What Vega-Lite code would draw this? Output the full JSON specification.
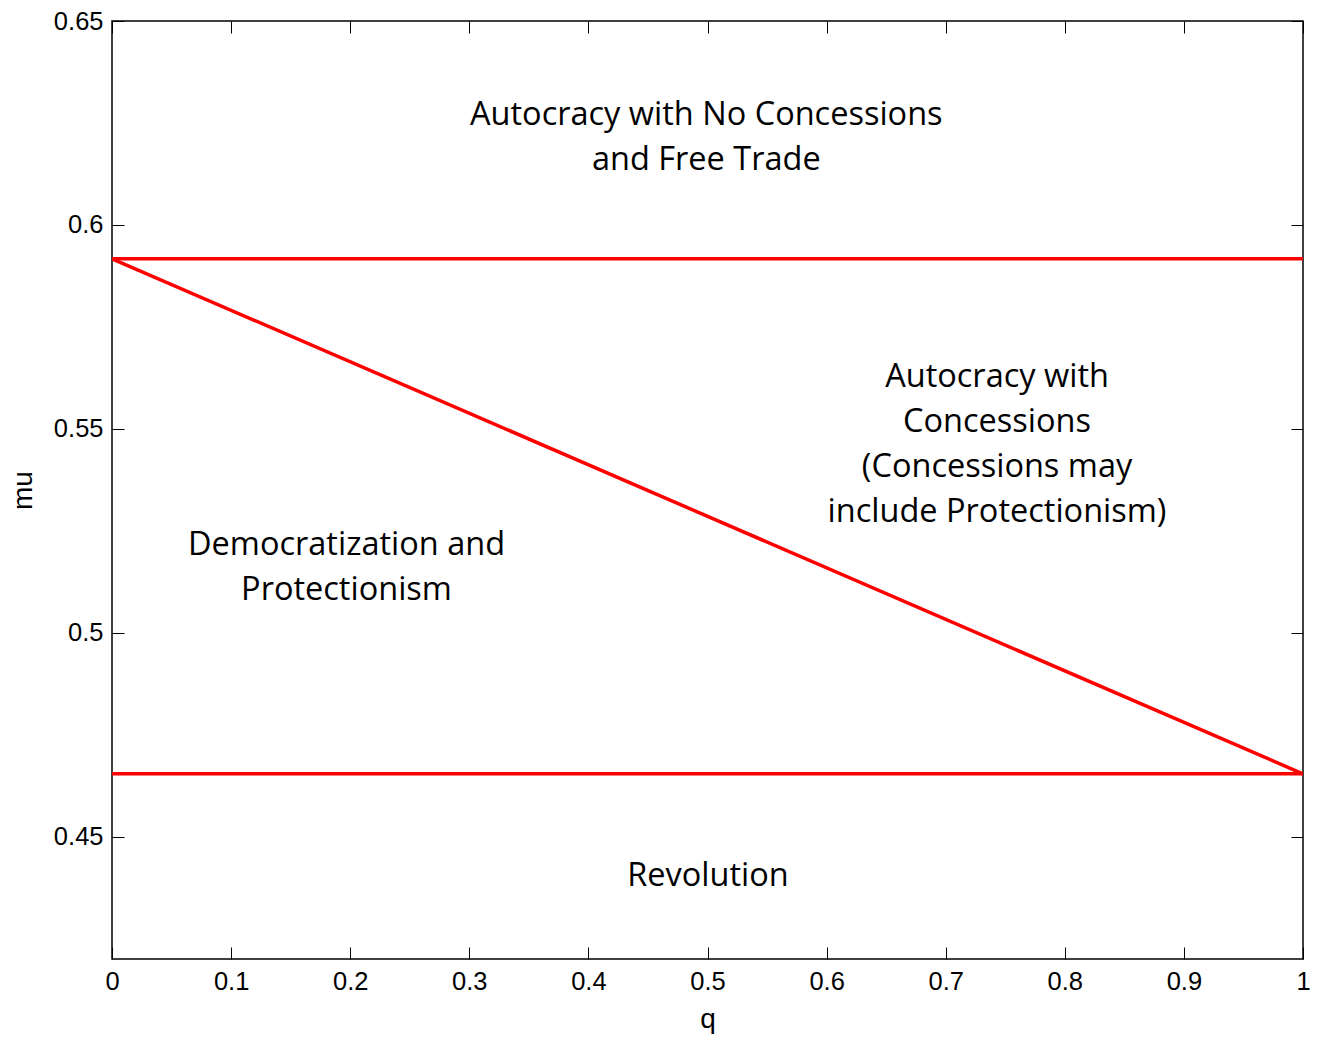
{
  "$schema": "https://vega.github.io/schema/vega-lite/v6.json",
  "autosize": "none",
  "padding": {"left": 112, "top": 21, "right": 15, "bottom": 83},
  "width": 1191,
  "height": 938,
  "background": "white",
  "config": {
    "view": {"stroke": "#000000", "strokeWidth": 1.5},
    "axis": {
      "domain": false,
      "grid": false,
      "tickColor": "#000000",
      "tickWidth": 1,
      "tickSize": -12,
      "labelFont": "Liberation Sans",
      "labelFontSize": 25.5,
      "labelColor": "#000000",
      "labelFlush": false,
      "labelOverlap": false,
      "titleFont": "Liberation Sans",
      "titleFontSize": 28,
      "titleFontWeight": "normal",
      "titleColor": "#000000"
    }
  },
  "datasets": {
    "lines": [
      {"series": "upper", "q": 0, "mu": 0.5917},
      {"series": "upper", "q": 1, "mu": 0.5917},
      {"series": "lower", "q": 0, "mu": 0.4654},
      {"series": "lower", "q": 1, "mu": 0.4654},
      {"series": "diag", "q": 0, "mu": 0.5917},
      {"series": "diag", "q": 1, "mu": 0.4654}
    ],
    "labels": [
      {"q": 0.499, "mu": 0.6269, "label": "Autocracy with No Concessions\nand Free Trade"},
      {"q": 0.7431, "mu": 0.5626, "label": "Autocracy with\nConcessions\n(Concessions may\ninclude Protectionism)"},
      {"q": 0.1969, "mu": 0.5214, "label": "Democratization and\nProtectionism"},
      {"q": 0.5004, "mu": 0.4403, "label": "Revolution"}
    ]
  },
  "layer": [
    {
      "data": {"name": "lines"},
      "mark": {"type": "line", "color": "#ff0000", "strokeWidth": 3.5, "clip": true},
      "encoding": {
        "x": {
          "field": "q", "type": "quantitative",
          "scale": {"domain": [0, 1], "nice": false, "zero": false},
          "axis": {
            "orient": "bottom", "title": "q",
            "values": [0, 0.1, 0.2, 0.3, 0.4, 0.5, 0.6, 0.7, 0.8, 0.9, 1],
            "format": ".1~f", "labelPadding": 22,
            "titleX": 595.5, "titleY": 68, "titleBaseline": "alphabetic", "titleAlign": "center"
          }
        },
        "y": {
          "field": "mu", "type": "quantitative",
          "scale": {"domain": [0.42, 0.65], "nice": false, "zero": false},
          "axis": {
            "orient": "left", "title": "mu",
            "values": [0.45, 0.5, 0.55, 0.6, 0.65],
            "format": ".2~f", "labelPadding": 21,
            "titleX": -81, "titleY": 469, "titleBaseline": "alphabetic", "titleAlign": "center", "titleAngle": -90
          }
        },
        "detail": {"field": "series", "type": "nominal"}
      }
    },
    {
      "data": {"name": "labels"},
      "mark": {"type": "text", "font": "Open Sans", "fontSize": 32.5, "lineHeight": 45, "lineBreak": "\n", "align": "center", "baseline": "middle", "color": "#000000"},
      "encoding": {
        "x": {
          "field": "q", "type": "quantitative",
          "axis": {"orient": "top", "labels": false, "title": null, "values": [0, 0.1, 0.2, 0.3, 0.4, 0.5, 0.6, 0.7, 0.8, 0.9, 1]}
        },
        "y": {
          "field": "mu", "type": "quantitative",
          "axis": {"orient": "right", "labels": false, "title": null, "values": [0.45, 0.5, 0.55, 0.6, 0.65]}
        },
        "text": {"field": "label", "type": "nominal"}
      }
    }
  ],
  "resolve": {"axis": {"x": "independent", "y": "independent"}}
}
